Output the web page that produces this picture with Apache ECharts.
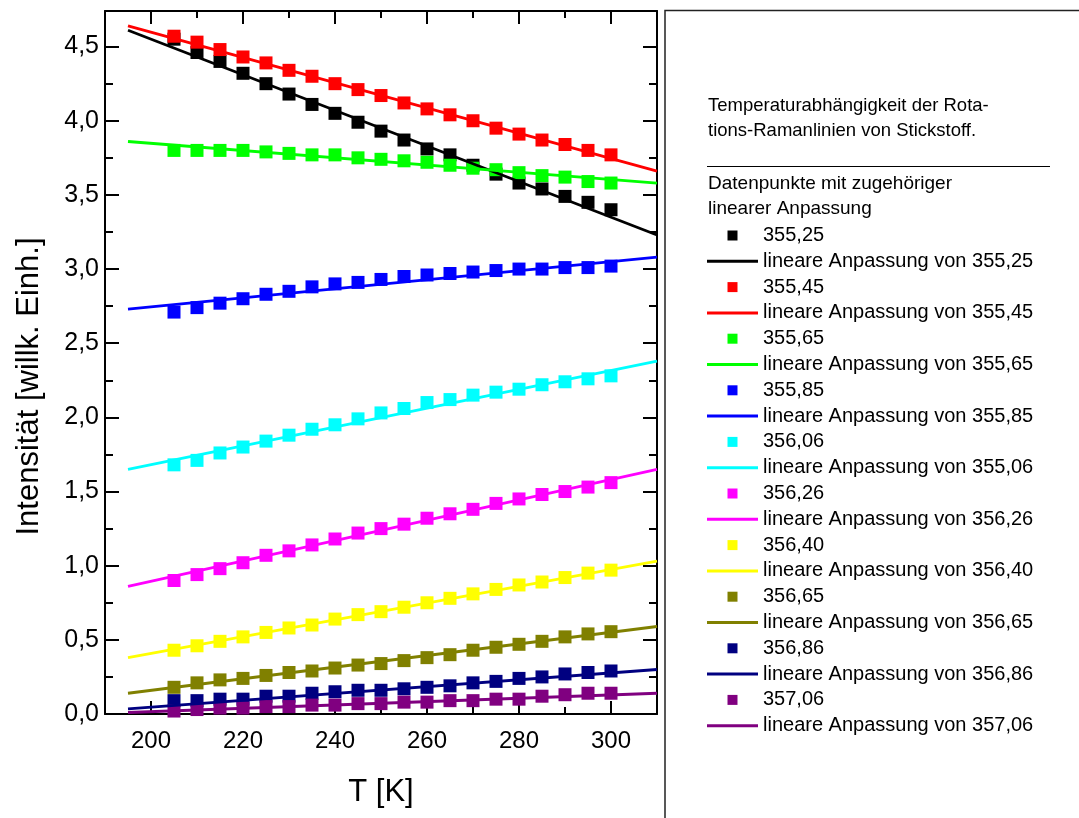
<!DOCTYPE html>
<html>
<head>
<meta charset="utf-8">
<title>Rotations-Ramanlinien von Stickstoff</title>
<script src="https://cdn.jsdelivr.net/npm/echarts@6.0.0/dist/echarts.min.js"></script>
<style>
  html, body { margin: 0; padding: 0; background: #fff; }
  #main { width: 1079px; height: 818px; }
</style>
</head>
<body>
<div id="main"></div>
<script>
// Temperatur der Messpunkte [K]
var temps = [205, 210, 215, 220, 225, 230, 235, 240, 245, 250,
             255, 260, 265, 270, 275, 280, 285, 290, 295, 300];

// Messwerte je Linie (Intensitaet, willk. Einh.)
var s35525 = [4.55, 4.46, 4.40, 4.32, 4.25, 4.18, 4.11, 4.05, 3.99, 3.93, 3.87, 3.81, 3.77, 3.70, 3.64, 3.58, 3.54, 3.49, 3.45, 3.40];
var s35545 = [4.57, 4.53, 4.48, 4.43, 4.39, 4.34, 4.30, 4.25, 4.21, 4.17, 4.12, 4.08, 4.04, 4.00, 3.95, 3.91, 3.87, 3.84, 3.80, 3.77];
var s35565 = [3.80, 3.80, 3.80, 3.80, 3.79, 3.78, 3.77, 3.77, 3.75, 3.74, 3.73, 3.72, 3.70, 3.68, 3.67, 3.65, 3.63, 3.62, 3.59, 3.58];
var s35585 = [2.71, 2.74, 2.77, 2.80, 2.83, 2.85, 2.88, 2.90, 2.91, 2.93, 2.95, 2.96, 2.97, 2.98, 2.99, 3.00, 3.00, 3.01, 3.01, 3.02];
var s35606 = [1.68, 1.71, 1.76, 1.80, 1.84, 1.88, 1.92, 1.95, 1.99, 2.03, 2.06, 2.10, 2.12, 2.15, 2.17, 2.19, 2.22, 2.24, 2.26, 2.28];
var s35626 = [0.90, 0.94, 0.98, 1.02, 1.07, 1.10, 1.14, 1.18, 1.22, 1.25, 1.28, 1.32, 1.35, 1.38, 1.42, 1.45, 1.48, 1.50, 1.53, 1.56];
var s35640 = [0.43, 0.46, 0.49, 0.52, 0.55, 0.58, 0.60, 0.64, 0.67, 0.69, 0.72, 0.75, 0.78, 0.81, 0.84, 0.87, 0.89, 0.92, 0.95, 0.97];
var s35665 = [0.18, 0.21, 0.23, 0.24, 0.26, 0.28, 0.29, 0.31, 0.33, 0.34, 0.36, 0.38, 0.40, 0.43, 0.45, 0.47, 0.49, 0.52, 0.54, 0.555];
var s35686 = [0.09, 0.09, 0.10, 0.10, 0.12, 0.12, 0.14, 0.15, 0.16, 0.16, 0.17, 0.18, 0.19, 0.21, 0.22, 0.24, 0.25, 0.27, 0.28, 0.29];
var s35706 = [0.02, 0.03, 0.04, 0.04, 0.05, 0.05, 0.06, 0.06, 0.07, 0.07, 0.08, 0.08, 0.09, 0.09, 0.10, 0.10, 0.12, 0.13, 0.14, 0.14];

// lineare Anpassung: Werte am Anfang und Ende der Geraden
var fitX = [195, 310];
var fitStart = [4.61, 4.64, 3.86, 2.73, 1.65, 0.86, 0.38, 0.14, 0.035, 0.01];
var fitEnd   = [3.23, 3.66, 3.58, 3.08, 2.38, 1.65, 1.03, 0.59, 0.30, 0.14];

var labels = ['355,25', '355,45', '355,65', '355,85', '356,06', '356,26', '356,40', '356,65', '356,86', '357,06'];
var fitNames = ['lineare Anpassung von 355,25', 'lineare Anpassung von 355,45', 'lineare Anpassung von 355,65',
                'lineare Anpassung von 355,85', 'lineare Anpassung von 355,06', 'lineare Anpassung von 356,26',
                'lineare Anpassung von 356,40', 'lineare Anpassung von 356,65', 'lineare Anpassung von 356,86',
                'lineare Anpassung von 357,06'];
var colors = ['#000000', '#ff0000', '#00ff00', '#0000ff', '#00ffff', '#ff00ff', '#ffff00', '#808000', '#000080', '#800080'];

// Achsenteilung
var xTicks = [200, 220, 240, 260, 280, 300];
var xMinor = [210, 230, 250, 270, 290];
var yTicks = [0, 0.5, 1.0, 1.5, 2.0, 2.5, 3.0, 3.5, 4.0, 4.5];
var yMinor = [0.25, 0.75, 1.25, 1.75, 2.25, 2.75, 3.25, 3.75, 4.25];

var pointSets = [s35525, s35545, s35565, s35585, s35606, s35626, s35640, s35665, s35686, s35706];

var FONT = '"Liberation Sans", Arial, Helvetica, sans-serif';
var xMin = 190, xMax = 310, yMin = 0, yMax = 4.74;

var chart = echarts.init(document.getElementById('main'), null, { renderer: 'canvas' });

var series = [];
var legendData = [];
for (var i = 0; i < labels.length; i++) {
  var pts = [];
  for (var j = 0; j < temps.length; j++) {
    pts.push([temps[j], pointSets[i][j]]);
  }
  series.push({
    name: labels[i],
    type: 'scatter',
    symbol: 'rect',
    symbolSize: 13,
    itemStyle: { color: colors[i], opacity: 1 },
    emphasis: { disabled: true },
    data: pts
  });
  series.push({
    name: fitNames[i],
    type: 'line',
    symbol: 'none',
    showSymbol: false,
    lineStyle: { color: colors[i], width: 2.8 },
    itemStyle: { color: colors[i] },
    emphasis: { disabled: true },
    data: [[fitX[0], fitStart[i]], [fitX[1], fitEnd[i]]]
  });
  legendData.push({ name: labels[i], icon: 'path://M0,0H10V10H0Z', itemStyle: { color: colors[i], borderWidth: 0 } });
  legendData.push({ name: fitNames[i], icon: 'path://M0,0H51V3H0Z', itemStyle: { color: colors[i], borderWidth: 0 } });
}

function xAxisDef(pos, major, showLabel) {
  return {
    type: 'value', position: pos, min: xMin, max: xMax,
    axisLine: { show: major, onZero: false, lineStyle: { color: '#000', width: 2 } },
    axisTick: { show: true, inside: true, length: major ? 13 : 7,
                customValues: major ? xTicks : xMinor, lineStyle: { color: '#000', width: 2 } },
    axisLabel: { show: showLabel, customValues: xTicks, color: '#000', fontSize: 24,
                 fontFamily: FONT, margin: 15 },
    splitLine: { show: false }
  };
}

function yAxisDef(pos, major, showLabel) {
  return {
    type: 'value', position: pos, min: yMin, max: yMax,
    axisLine: { show: major, onZero: false, lineStyle: { color: '#000', width: 2 } },
    axisTick: { show: true, inside: true, length: major ? 14 : 8,
                customValues: major ? yTicks : yMinor, lineStyle: { color: '#000', width: 2 } },
    axisLabel: { show: showLabel, customValues: yTicks, color: '#000', fontSize: 25,
                 fontFamily: FONT, margin: 6,
                 formatter: function (v) { return v.toFixed(1).replace('.', ','); } },
    splitLine: { show: false }
  };
}

var xBottom = xAxisDef('bottom', true, true);
xBottom.name = 'T [K]';
xBottom.nameLocation = 'middle';
xBottom.nameGap = 63;
xBottom.nameTextStyle = { fontSize: 31, color: '#000', fontFamily: FONT };

var yLeft = yAxisDef('left', true, true);
yLeft.name = 'Intensität [willk. Einh.]';
yLeft.nameLocation = 'middle';
yLeft.nameGap = 60;
yLeft.nameTextStyle = { fontSize: 31, color: '#000', fontFamily: FONT, padding: [0, 48, 0, 0] };

var option = {
  backgroundColor: '#fff',
  animation: false,
  textStyle: { fontFamily: FONT },
  grid: { left: 105, top: 11, right: 422, bottom: 104, containLabel: false, outerBoundsMode: 'none' },
  title: [
    {
      text: 'Temperaturabhängigkeit der Rota-\ntions-Ramanlinien von Stickstoff.',
      left: 708, top: 93, padding: 0,
      textStyle: { fontSize: 18.5, fontWeight: 'normal', color: '#000', lineHeight: 25, fontFamily: FONT }
    },
    {
      text: 'Datenpunkte mit zugehöriger\nlinearer Anpassung',
      left: 708, top: 171, padding: 0,
      textStyle: { fontSize: 19, fontWeight: 'normal', color: '#000', lineHeight: 25, fontFamily: FONT }
    }
  ],
  legend: {
    orient: 'vertical',
    left: 707, top: 225.5, padding: 0,
    itemWidth: 51, itemHeight: 10, itemGap: 5.8,
    symbolKeepAspect: true,
    selectedMode: false,
    textStyle: { fontSize: 20, color: '#000', lineHeight: 20, fontFamily: FONT },
    data: legendData
  },
  xAxis: [
    xBottom,
    xAxisDef('bottom', false, false),
    xAxisDef('top', true, false),
    xAxisDef('top', false, false)
  ],
  yAxis: [
    yLeft,
    yAxisDef('left', false, false),
    yAxisDef('right', true, false),
    yAxisDef('right', false, false)
  ],
  graphic: [
    {
      type: 'rect', silent: true,
      shape: { x: 665, y: 10.5, width: 440, height: 900 },
      style: { fill: 'none', stroke: '#222', lineWidth: 1.5 }
    },
    {
      type: 'line', silent: true,
      shape: { x1: 707, y1: 166.5, x2: 1050, y2: 166.5 },
      style: { stroke: '#000', lineWidth: 1 }
    }
  ],
  series: series
};

chart.setOption(option);
</script>
</body>
</html>
